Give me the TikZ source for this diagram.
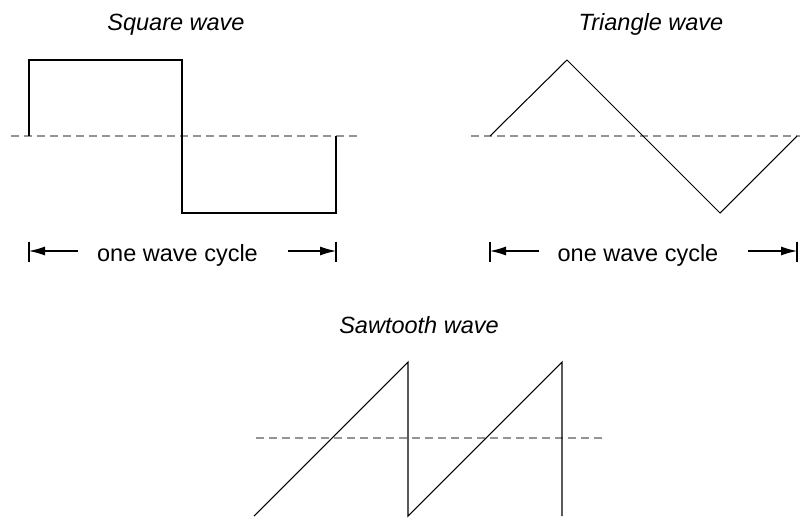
\documentclass[tikz,border=0pt]{standalone}
\usepackage{fontspec}
\setmainfont{Liberation Sans}
\usetikzlibrary{arrows.meta}
\begin{document}
\begin{tikzpicture}[x=1pt,y=-1pt,
  wave/.style={line width=1.05pt,black,line join=miter},
  axisline/.style={line width=1.05pt,black!42,dash pattern=on 8pt off 5pt},
  title/.style={font=\fontsize{23.5}{28}\selectfont\itshape,inner sep=0pt,anchor=base},
  cyclelabel/.style={font=\fontsize{23.5}{28}\selectfont,inner sep=0pt,anchor=base},
  tick/.style={line width=1.05pt},
  dimarrow/.style={line width=1.05pt,-{Latex[length=16pt,width=9pt]}}]
\useasboundingbox (0,0) rectangle (806,519);
% ---------- Square wave ----------
\node[title] (sqt) at (176,31) {Square wave};
\coordinate (sqa) at (11,136);
\coordinate (sqb) at (357,136);
\draw[axisline] (sqa) -- (sqb);
\coordinate (s0) at (29,136);
\coordinate (s1) at (29,60);
\coordinate (s2) at (182,60);
\coordinate (s3) at (182,213);
\coordinate (s4) at (336,213);
\coordinate (s5) at (336,136);
\draw[wave] (s0) -- (s1) -- (s2) -- (s3) -- (s4) -- (s5);
\node[cyclelabel] (sql) at (177.5,261) {one wave cycle};
\coordinate (sqtl1) at (29,241.5); \coordinate (sqtl2) at (29,262);
\coordinate (sqtr1) at (336,241.5); \coordinate (sqtr2) at (336,262);
\draw[tick] (sqtl1) -- (sqtl2);
\draw[tick] (sqtr1) -- (sqtr2);
\coordinate (sqal) at (78,251); \coordinate (sqae) at (29,251);
\coordinate (sqar) at (288,251); \coordinate (sqaf) at (336,251);
\draw[dimarrow] (sqal) -- (sqae);
\draw[dimarrow] (sqar) -- (sqaf);
% ---------- Triangle wave ----------
\node[title] (trt) at (651,31) {Triangle wave};
\coordinate (tra) at (471,136);
\coordinate (trb) at (800,136);
\draw[axisline] (tra) -- (trb);
\coordinate (t0) at (490,136);
\coordinate (t1) at (567,60);
\coordinate (t2) at (720,213);
\coordinate (t3) at (797,136);
\draw[wave] (t0) -- (t1) -- (t2) -- (t3);
\node[cyclelabel] (trl) at (638,261) {one wave cycle};
\coordinate (trtl1) at (490,241.5); \coordinate (trtl2) at (490,262);
\coordinate (trtr1) at (797,241.5); \coordinate (trtr2) at (797,262);
\draw[tick] (trtl1) -- (trtl2);
\draw[tick] (trtr1) -- (trtr2);
\coordinate (tral) at (539,251); \coordinate (trae) at (490,251);
\coordinate (trar) at (748,251); \coordinate (traf) at (797,251);
\draw[dimarrow] (tral) -- (trae);
\draw[dimarrow] (trar) -- (traf);
% ---------- Sawtooth wave ----------
\node[title] (swt) at (419,333) {Sawtooth wave};
\coordinate (swa) at (256,438);
\coordinate (swb) at (602,438);
\draw[axisline] (swa) -- (swb);
\coordinate (w0) at (254,516);
\coordinate (w1) at (408,362);
\coordinate (w2) at (408,516);
\coordinate (w3) at (562,362);
\coordinate (w4) at (562,516);
\draw[wave] (w0) -- (w1) -- (w2) -- (w3) -- (w4);
\end{tikzpicture}
\end{document}
